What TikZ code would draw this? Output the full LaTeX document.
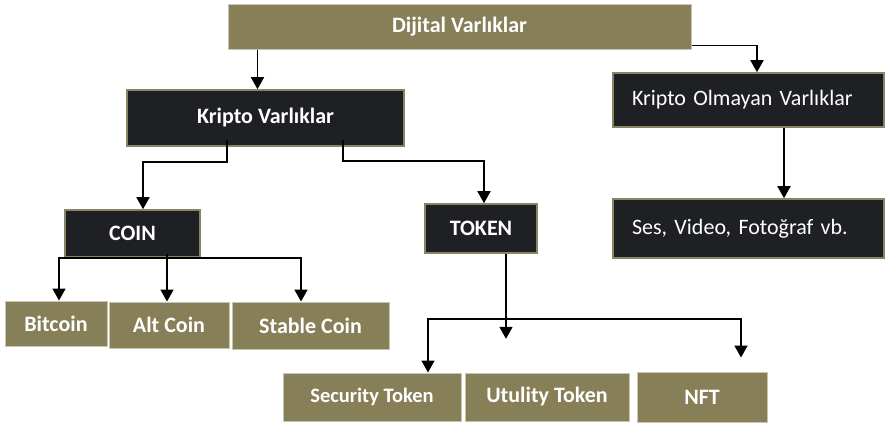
\documentclass[tikz,border=0pt]{standalone}
\usepackage{fontspec}
\setmainfont{Carlito}
\usepackage{tikz}
\usetikzlibrary{arrows.meta, positioning}
\definecolor{varolive}{HTML}{877F57}
\definecolor{varoliveedge}{HTML}{C9C5AE}
\definecolor{vardark}{HTML}{1E2023}
\definecolor{vardarkedge}{HTML}{8B8463}
\begin{document}
\begin{tikzpicture}[
        x=1pt, y=-1pt,
        font=\fontsize{22}{26}\selectfont,
        every node/.style={align=center, text=white},
        darkbox/.style={rectangle, fill=vardark, draw=vardarkedge, line width=1.6pt,
                        inner sep=0pt},
        olivebox/.style={rectangle, fill=varolive, draw=varoliveedge, line width=1pt,
                         inner sep=0pt, font=\fontsize{22}{26}\selectfont\bfseries},
        sidebox/.style={darkbox, inner xsep=19pt, text width=233pt, align=left,
                        minimum width=271pt},
        arr/.style={draw=black, line width=1.8pt, -{Triangle[width=13pt, length=12pt]}}
    ]
        \useasboundingbox (0,0) rectangle (887,426);

        \node[olivebox, minimum width=463pt, minimum height=45pt] (dv) at (459.5,26.5) {Dijital Varlıklar};

        \node[darkbox, minimum width=277pt, minimum height=56pt, font=\fontsize{22}{26}\selectfont\bfseries] (kv) at (265.5,118) {Kripto Varlıklar};
        \node[sidebox, minimum height=54pt] (kov) at (748.5,100) {Kripto Olmayan Varlıklar};
        \node[sidebox, minimum height=59pt] (ses) at (748.5,228.5) {Ses, Video, Fotoğraf vb.};

        \node[darkbox, minimum width=135pt, minimum height=47pt, font=\fontsize{22}{26}\selectfont\bfseries] (coin) at (132.5,233.5) {COIN};
        \node[darkbox, minimum width=112pt, minimum height=49pt, font=\fontsize{22}{26}\selectfont\bfseries] (token) at (481,228.5) {TOKEN};

        \node[olivebox, minimum width=102pt, minimum height=45pt] (btc) at (56,323.5) {Bitcoin};
        \node[olivebox, minimum width=120pt, minimum height=46pt] (alt) at (169,325) {Alt Coin};
        \node[olivebox, minimum width=157pt, minimum height=47pt] (stable) at (310.5,325.5) {Stable Coin};

        \node[olivebox, minimum width=178pt, minimum height=48pt, font=\fontsize{20.5}{24}\selectfont\bfseries] (sec) at (372,397) {Security Token};
        \node[olivebox, minimum width=164pt, minimum height=48pt] (utl) at (547,397) {Utulity Token};
        \node[olivebox, minimum width=130pt, minimum height=50pt] (nft) at (702,397) {NFT};

        \coordinate (tokend) at ([xshift=25pt, yshift=-85pt]token.south);
        \coordinate (nftend) at ([xshift=39pt, yshift=14pt]nft.north);

        \draw[arr] ([xshift=-202pt]dv.south) -- ([xshift=-8pt]kv.north);
        \draw[arr] ([yshift=4pt]dv.south east) -| ([xshift=8.5pt]kov.north);
        \draw[arr] ([xshift=35.5pt]kov.south) -- ([xshift=35.5pt]ses.north);

        \draw[arr] ([xshift=-38.5pt, yshift=7pt]kv.south) -- ++(0,22) -| ([xshift=10.5pt]coin.north);
        \draw[arr] ([xshift=77.5pt, yshift=7pt]kv.south) -- ++(0,21) -| ([xshift=3pt]token.north);

        \draw[arr] (coin.south) -| ([xshift=3pt]btc.north);
        \draw[arr] (coin.south) -| ([xshift=-9.5pt]stable.north);
        \draw[arr] ([xshift=34.5pt, yshift=4pt]coin.south) -- ([xshift=-2pt]alt.north);

        \draw[arr] ([xshift=25pt]token.south) -- (tokend);
        \draw[arr] ([xshift=25pt, yshift=-65pt]token.south) -| ([xshift=56pt]sec.north);
        \draw[arr] ([xshift=25pt, yshift=-65pt]token.south) -| (nftend);
    \end{tikzpicture}
\end{document}
